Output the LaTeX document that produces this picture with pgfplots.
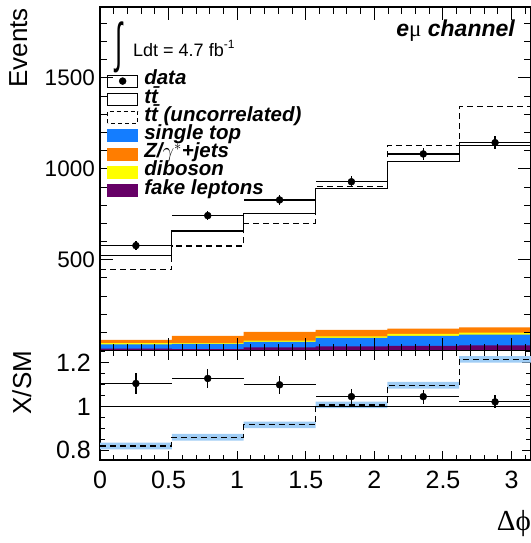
\documentclass[border=0pt]{standalone}
\usepackage{pgfplots}
\pgfplotsset{compat=1.18}
\usepackage{fontspec}
\setmainfont{Liberation Sans}
\newfontfamily\serifg{Liberation Serif}
\definecolor{stblue}{RGB}{20,125,255}
\definecolor{zorange}{RGB}{255,125,0}
\definecolor{dbyellow}{RGB}{255,255,0}
\definecolor{fakepurple}{RGB}{102,0,102}
\definecolor{bandblue}{RGB}{160,205,245}
\newcommand\tickfont{\fontsize{22.5bp}{22.5bp}\selectfont}
\newcommand\rtickfont{\fontsize{25bp}{25bp}\selectfont}
\newcommand\legfont{\fontsize{20.5bp}{20.5bp}\selectfont\bfseries\itshape}
\begin{document}
\begin{tikzpicture}
\pgfplotsset{
  every axis/.append style={
    scale only axis, width=431bp, xmin=0, xmax=3.14159,
    axis line style={line width=1.2bp},
    tick style={black, line width=1bp},
    tick align=inside,
    /pgf/number format/assume math mode=true,
    tick label style={font=\tickfont},
    xtick={0,0.5,1,1.5,2,2.5,3},
    minor xtick={0.1,0.2,0.3,0.4,0.6,0.7,0.8,0.9,1.1,1.2,1.3,1.4,1.6,1.7,1.8,1.9,2.1,2.2,2.3,2.4,2.6,2.7,2.8,2.9,3.1},
  }
}
\begin{axis}[name=main, at={(100bp,192.3bp)}, anchor=south west, height=343.7bp,
  ymin=0, ymax=1890,
  xticklabels={},
  ytick={500,1000,1500},
  minor ytick={100,200,300,400,600,700,800,900,1100,1200,1300,1400,1600,1700,1800},
  /pgf/number format/1000 sep={},
  major tick length=13bp, minor tick length=7bp,
  yticklabel style={inner sep=0pt, xshift=-5bp},
  axis on top,
  legend style={at={(0.01624,0.8109)}, anchor=north west, draw=none, fill=none,
    inner sep=0pt, outer sep=0pt, row sep=0pt, column sep=6bp, font=\legfont,
    nodes={inner sep=0pt, text height=13bp, text depth=5.2bp}},
  legend cell align=left,
]
% stacked backgrounds (cumulative)
\addplot[fill=zorange, draw=none, const plot, forget plot] coordinates {(0,60)(0.5236,82)(1.0472,103)(1.5708,115)(2.0944,121)(2.6180,128)(3.1416,128)} \closedcycle;
\addplot[fill=dbyellow, draw=none, const plot, forget plot] coordinates {(0,42)(0.5236,42)(1.0472,55)(1.5708,79)(2.0944,92)(2.6180,100)(3.1416,100)} \closedcycle;
\addplot[fill=stblue, draw=none, const plot, forget plot] coordinates {(0,35)(0.5236,37)(1.0472,48)(1.5708,70)(2.0944,81)(2.6180,88)(3.1416,88)} \closedcycle;
\addplot[fill=fakepurple, draw=none, const plot, forget plot] coordinates {(0,11)(0.5236,9)(1.0472,18)(1.5708,24)(2.0944,27)(2.6180,29)(3.1416,29)} \closedcycle;
% ttbar
\addplot[black, line width=1.3bp, const plot, forget plot] coordinates {(0,523)(0.5236,659)(1.0472,756)(1.5708,893)(2.0944,1039)(2.6180,1127)(3.1416,1127)};
% ttbar uncorrelated
\addplot[black, line width=1.3bp, dash pattern=on 6bp off 4bp, const plot, forget plot] coordinates {(0,445)(0.5236,575)(1.0472,701)(1.5708,902)(2.0944,1127)(2.6180,1341)(3.1416,1341)};
% data
\addplot[black, only marks, mark=*, mark size=3.5bp, forget plot,
  error bars/.cd, x dir=both, x explicit, y dir=both, y explicit, error mark=none,
  error bar style={line width=1.2bp}]
  table[x=x, y=y, x error=ex, y error=ey] {
x ex y ey
0.2618 0.2618 578 24
0.7854 0.2618 743 27
1.3090 0.2618 829 29
1.8326 0.2618 929 30
2.3562 0.2618 1082 33
2.8798 0.2618 1144 34
};
\addlegendimage{legend image code/.code={\path (0,-6bp) rectangle (30bp,6bp); \fill[black] (15bp,0bp) circle (3.5bp);}}
\addlegendentry{data}
\addlegendimage{legend image code/.code={\draw[black, line width=1.3bp, fill=white] (0,-6bp) rectangle (30bp,6bp);}}
\addlegendentry{t\={t}}
\addlegendimage{legend image code/.code={\draw[black, line width=1.3bp, dash pattern=on 4bp off 3bp, fill=white] (0,-6bp) rectangle (30bp,6bp);}}
\addlegendentry{t\={t} (uncorrelated)}
\addlegendimage{legend image code/.code={\fill[stblue] (0,-6bp) rectangle (30bp,6bp);}}
\addlegendentry{single top}
\addlegendimage{legend image code/.code={\fill[zorange] (0,-6bp) rectangle (30bp,6bp);}}
\addlegendentry{Z/$\gamma^{*}$+jets}
\addlegendimage{legend image code/.code={\fill[dbyellow] (0,-6bp) rectangle (30bp,6bp);}}
\addlegendentry{diboson}
\addlegendimage{legend image code/.code={\fill[fakepurple] (0,-6bp) rectangle (30bp,6bp);}}
\addlegendentry{fake leptons}
\node[anchor=center, inner sep=0pt] at (axis description cs:0.0452,0.8836) {\scalebox{1.3}[2.7]{\fontsize{20bp}{20bp}\selectfont ∫}};
\node[anchor=base west, inner sep=0pt, font=\fontsize{18bp}{18bp}\selectfont] at (axis description cs:0.0766,0.8560) {Ldt = 4.7 fb\raisebox{0.45em}{\fontsize{12bp}{12bp}\selectfont -1}};
\node[anchor=base east, inner sep=0pt, font=\fontsize{23bp}{23bp}\selectfont\bfseries\itshape] at (axis description cs:0.9629,0.9156) {e{\serifg\mdseries\upshape μ} channel};
\end{axis}

\begin{axis}[name=ratio, at={(100bp,83bp)}, anchor=south west, height=109.3bp,
  ymin=0.755, ymax=1.255,
  ytick={0.8,1,1.2},
  minor ytick={0.85,0.9,0.95,1.05,1.1,1.15,1.25},
  major tick length=9bp, minor tick length=5bp,
  tick label style={font=\rtickfont},
  yticklabel style={inner sep=0pt, xshift=-9bp},
  xticklabel style={inner sep=0pt, yshift=-11bp},
  xlabel={Δϕ},
  xlabel style={at={(axis description cs:1,0)}, anchor=north east, inner sep=0pt, yshift=-50bp, font=\serifg\fontsize{29bp}{29bp}\selectfont},
]
\addplot[fill=bandblue, draw=none, forget plot] coordinates {(0,0.834)(0.5236,0.834)(0.5236,0.874)(1.0472,0.874)(1.0472,0.931)(1.5708,0.931)(1.5708,1.022)(2.0944,1.022)(2.0944,1.112)(2.6180,1.112)(2.6180,1.230)(3.1416,1.230)(3.1416,1.200)(2.6180,1.200)(2.6180,1.082)(2.0944,1.082)(2.0944,0.992)(1.5708,0.992)(1.5708,0.901)(1.0472,0.901)(1.0472,0.844)(0.5236,0.844)(0.5236,0.804)(0,0.804)} --cycle;
\addplot[black, line width=1.3bp, dash pattern=on 6bp off 4bp, const plot, forget plot] coordinates {(0,0.819)(0.5236,0.859)(1.0472,0.916)(1.5708,1.007)(2.0944,1.097)(2.6180,1.215)(3.1416,1.215)};
\addplot[black, line width=1.3bp, forget plot] coordinates {(0,1)(3.1416,1)};
\pgfplotsinvokeforeach{0.1,0.2,0.3,0.4,0.6,0.7,0.8,0.9,1.1,1.2,1.3,1.4,1.6,1.7,1.8,1.9,2.1,2.2,2.3,2.4,2.6,2.7,2.8,2.9,3.1}{
  \draw[line width=1bp] (axis cs:#1,1) ++(0,-3bp) -- ++(0,6bp);
}
\pgfplotsinvokeforeach{0.5,1,1.5,2,2.5,3}{
  \draw[line width=1bp] (axis cs:#1,1) ++(0,-5bp) -- ++(0,10bp);
}
\addplot[black, only marks, mark=*, mark size=3.5bp, forget plot,
  error bars/.cd, x dir=both, x explicit, y dir=both, y explicit, error mark=none,
  error bar style={line width=1.2bp}]
  table[x=x, y=y, x error=ex, y error=ey] {
x ex y ey
0.2618 0.2618 1.105 0.050
0.7854 0.2618 1.128 0.045
1.3090 0.2618 1.099 0.040
1.8326 0.2618 1.045 0.035
2.3562 0.2618 1.045 0.032
2.8798 0.2618 1.021 0.030
};
\end{axis}
\node[rotate=90, anchor=base east, inner sep=0pt, font=\fontsize{26bp}{26bp}\selectfont] at ([xshift=-73bp, yshift=-1bp]main.north west) {Events};
\node[rotate=90, anchor=base east, inner sep=0pt, font=\fontsize{26bp}{26bp}\selectfont] at ([xshift=-69bp]ratio.north west) {X/SM};
\pgfresetboundingbox
\useasboundingbox (0,0) rectangle (531bp,543bp);
\end{tikzpicture}
\end{document}
